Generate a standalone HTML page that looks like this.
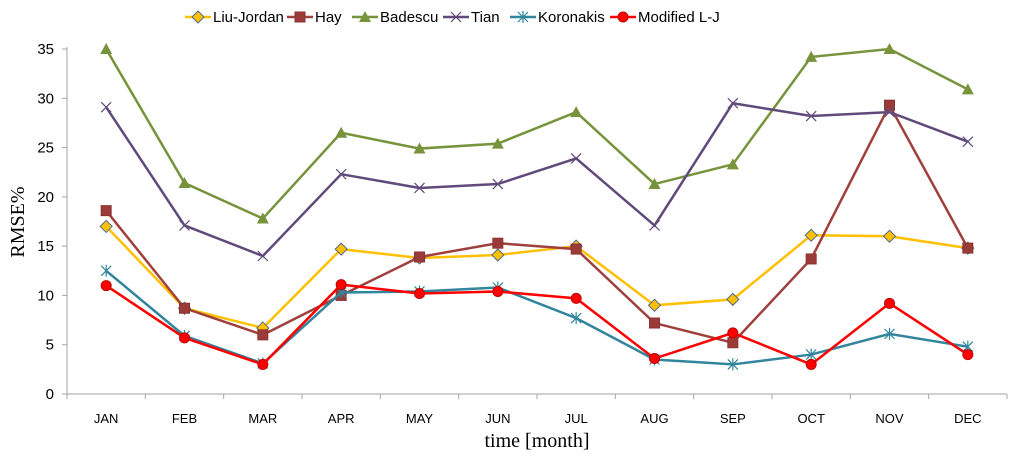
<!DOCTYPE html>
<html><head><meta charset="utf-8"><style>
body{margin:0;background:#fff;}
svg{display:block;font-family:"Liberation Sans",sans-serif;}
</style></head><body>
<svg id="chart" width="1024" height="457" viewBox="0 0 1024 457"></svg>
<script>
const months=["JAN","FEB","MAR","APR","MAY","JUN","JUL","AUG","SEP","OCT","NOV","DEC"];
const yTicks=[0,5,10,15,20,25,30,35];
const liuJordan=[17,8.7,6.7,14.7,13.8,14.1,15,9,9.6,16.1,16,14.8];
const hay=[18.6,8.7,6,10,13.9,15.3,14.7,7.2,5.2,13.7,29.3,14.8];
const badescu=[35,21.4,17.8,26.5,24.9,25.4,28.6,21.3,23.3,34.2,35,30.9];
const tian=[29.1,17.1,14,22.3,20.9,21.3,23.9,17.1,29.5,28.2,28.6,25.6];
const koronakis=[12.5,5.9,3.1,10.3,10.4,10.8,7.7,3.5,3,4,6.1,4.8];
const modifiedLJ=[11,5.7,3,11.1,10.2,10.4,9.7,3.6,6.2,3,9.2,4];
const seriesNames=["Liu-Jordan","Hay","Badescu","Tian","Koronakis","Modified L-J"];

const NS="http://www.w3.org/2000/svg";
const svg=document.getElementById('chart');
const L=67,R=1007,T=49,B=394,yMax=35;
const cw=(R-L)/months.length;
const xs=i=>L+cw*(i+0.5);
const ys=v=>B-(v/yMax)*(B-T);
function el(tag,attrs,parent){const e=document.createElementNS(NS,tag);for(const k in attrs)e.setAttribute(k,attrs[k]);(parent||svg).appendChild(e);return e;}

let a=el('line',{x1:L,y1:T-2,x2:L,y2:B,stroke:'#a6a6a6','stroke-width':1});


a=el('line',{x1:L,y1:B,x2:R,y2:B,stroke:'#a6a6a6','stroke-width':1});


yTicks.forEach(v=>{
  el('line',{x1:L-5,y1:ys(v),x2:L,y2:ys(v),stroke:'#a6a6a6'});
  const t=el('text',{x:L-13,y:ys(v)+5,'text-anchor':'end','font-size':15,fill:'#000'});
  t.textContent=v;
  
  
});
for(let i=0;i<=months.length;i++){el('line',{x1:L+cw*i,y1:B,x2:L+cw*i,y2:B+5,stroke:'#a6a6a6'});}
months.forEach((m,i)=>{
  const t=el('text',{x:xs(i),y:423,'text-anchor':'middle','font-size':13,fill:'#000'});
  t.textContent=m;
  
  
});
let t=el('text',{x:0,y:0,transform:'translate(24,222) rotate(-90)','text-anchor':'middle','font-size':20,'font-family':'Liberation Serif, serif'});
t.textContent='RMSE%';


t=el('text',{x:537,y:447,'text-anchor':'middle','font-size':20,'font-family':'Liberation Serif, serif'});
t.textContent='time [month]';



function marker(type,x,y,color,g){
  if(type==='diamond')el('path',{d:`M${x} ${y-6}L${x+6} ${y}L${x} ${y+6}L${x-6} ${y}Z`,fill:'#FFC000',stroke:'#4F6A8F','stroke-width':1},g);
  else if(type==='square')el('rect',{x:x-5,y:y-5,width:10,height:10,fill:'#9B3B38',stroke:'#8a3330'},g);
  else if(type==='triangle')el('path',{d:`M${x} ${y-6}L${x+6} ${y+5}L${x-6} ${y+5}Z`,fill:'#77933C'},g);
  else if(type==='x')el('path',{d:`M${x-5} ${y-5}L${x+5} ${y+5}M${x-5} ${y+5}L${x+5} ${y-5}`,stroke:color,'stroke-width':1.2},g);
  else if(type==='star')el('path',{d:`M${x-5} ${y-5}L${x+5} ${y+5}M${x-5} ${y+5}L${x+5} ${y-5}M${x} ${y-6}L${x} ${y+6}`,stroke:color,'stroke-width':1.2},g);
  else if(type==='circle')el('circle',{cx:x,cy:y,r:5,fill:'#FF0000',stroke:'#C00000','stroke-width':1},g);
}
const series=[
 {data:liuJordan,color:'#FFC000',m:'diamond',key:'liu-jordan'},
 {data:hay,color:'#A0403D',m:'square',key:'hay'},
 {data:badescu,color:'#77933C',m:'triangle',key:'badescu'},
 {data:tian,color:'#604A7B',m:'x',key:'tian'},
 {data:koronakis,color:'#31859C',m:'star',key:'koronakis'},
 {data:modifiedLJ,color:'#FF0000',m:'circle',key:'modified-lj'}
];
series.forEach(s=>{
  const g=el('g',{});
  
  
  const p=el('polyline',{points:s.data.map((v,i)=>xs(i)+','+ys(v)).join(' '),fill:'none',stroke:s.color,'stroke-width':2.5},g);
  
  
  s.data.forEach((v,i)=>marker(s.m,xs(i),ys(v),s.color,g));
});
const legX=[185,287,352,443,510,610];
series.forEach((s,i)=>{
  const g=el('g',{});
  
  
  const x=legX[i],y=17;
  el('line',{x1:x,y1:y,x2:x+26,y2:y,stroke:s.color,'stroke-width':2.5},g);
  marker(s.m,x+13,y,s.color,g);
  const tx=el('text',{x:x+28,y:y+5,'font-size':15,fill:'#000'},g);
  tx.textContent=seriesNames[i];
});
</script>
</body></html>
